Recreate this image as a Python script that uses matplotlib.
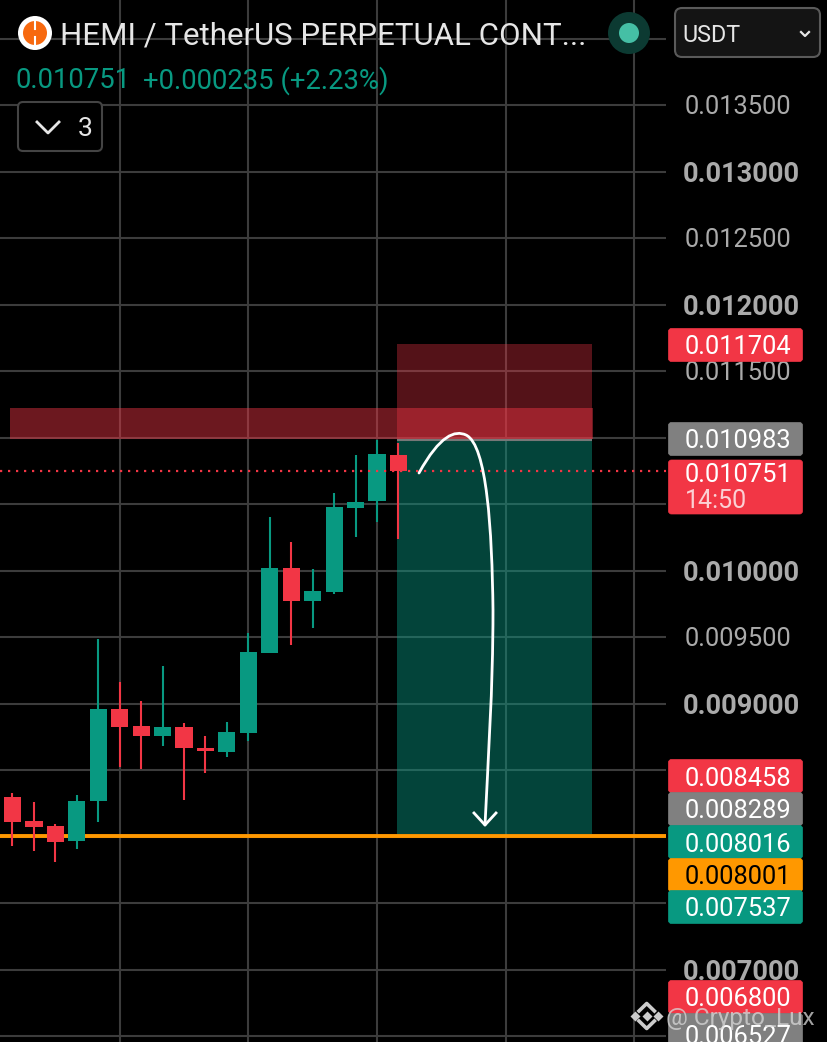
import matplotlib
matplotlib.use('Agg')
import matplotlib.pyplot as plt
from matplotlib.patches import Circle, FancyBboxPatch, PathPatch, Rectangle
from matplotlib.path import Path

plt.rcParams['font.family'] = ['Roboto', 'DejaVu Sans']

# candles
opens = [0.008295, 0.008117, 0.008077, 0.007964, 0.008267, 0.008956, 0.008831, 0.008758, 0.008821, 0.008665,
         0.008638, 0.008778, 0.009382, 0.010021, 0.009771, 0.009841, 0.010472, 0.010523, 0.010871]
highs = [0.008329, 0.008257, 0.008094, 0.008312, 0.009485, 0.009159, 0.009019, 0.009282, 0.008851, 0.008756,
         0.008859, 0.009528, 0.010400, 0.010212, 0.010011, 0.010583, 0.010868, 0.010981, 0.010961]
lows = [0.007929, 0.007891, 0.007808, 0.007908, 0.008111, 0.008525, 0.008508, 0.008680, 0.008272, 0.008475,
        0.008598, 0.008720, 0.009382, 0.009440, 0.009570, 0.009821, 0.010252, 0.010362, 0.010237]
closes = [0.008111, 0.008071, 0.007961, 0.008265, 0.008956, 0.008826, 0.008756, 0.008821, 0.008665, 0.008643,
          0.008786, 0.009385, 0.010021, 0.009771, 0.009844, 0.010475, 0.010515, 0.010876, 0.010751]

# price axis
tick_prices = [0.0135, 0.013, 0.0125, 0.012, 0.0115, 0.0100, 0.0095, 0.009, 0.007]
tick_labels = ['0.013500', '0.013000', '0.012500', '0.012000', '0.011500',
               '0.010000', '0.009500', '0.009000', '0.007000']
bold_ticks = ['0.013000', '0.012000', '0.010000', '0.009000', '0.007000']
grid_prices = [0.014, 0.0135, 0.013, 0.0125, 0.012, 0.0115, 0.011, 0.0105, 0.010,
               0.0095, 0.009, 0.0085, 0.008, 0.0075, 0.007, 0.0065]
grid_candles = [5, 11, 17, 23, 29]

# trade levels
last_price = 0.010751
stop_price = 0.011704
entry_price = 0.010983
target_price = 0.008016
orange_price = 0.008001
zone_top = 0.011222
zone_bottom = 0.010989

# price badges
badge_text = ['0.011704', '0.010983', '0.008458', '0.008289', '0.008016', '0.008001', '0.007537', '0.006800', '0.006527']
badge_color = ['#f23645', '#808080', '#f23645', '#808080', '#089981', '#ff9800', '#089981', '#f23645', '#808080']
badge_ypos = [345, 439, 776, 809, 842, 875, 907, 997, 1030]

UP = '#089981'
DOWN = '#f23645'
GRID = '#3c3c3c'
LABEL = 18.4
W, H = 828, 1042
CHART_W = 666


# pixel calibration of the screenshot
def py(p):
    return 105 + (0.0135 - p) * 133000


def cx(px):
    return (px - 12.5) / 21.44


fig = plt.figure(figsize=(W / 100, H / 100), dpi=100, facecolor='black')
ax = fig.add_axes([0, 0, CHART_W / W, 1])
ax.set_facecolor('black')
ax.set_xlim(cx(0), cx(CHART_W))
ax.set_ylim(0.0135 - (H - 105) / 133000, 0.0135 + 105 / 133000)
ax.axis('off')

ax.hlines(grid_prices, cx(0), cx(CHART_W), color=GRID, lw=1.5, zorder=1)
ax.vlines(grid_candles, *ax.get_ylim(), color=GRID, lw=1.5, zorder=1)

# position boxes and zone
box_l, box_r = cx(397.5), cx(592)
ax.add_patch(Rectangle((box_l, target_price), box_r - box_l, entry_price - target_price,
                       color=UP, alpha=0.45, lw=0, zorder=2))
ax.add_patch(Rectangle((box_l, entry_price), box_r - box_l, stop_price - entry_price,
                       color=DOWN, alpha=0.35, lw=0, zorder=2))
ax.add_patch(Rectangle((cx(10), zone_bottom), cx(593) - cx(10), zone_top - zone_bottom,
                       color=DOWN, alpha=0.45, lw=0, zorder=2))
ax.hlines(entry_price, box_l, box_r, color='#777777', lw=1.5, zorder=3)
ax.hlines(orange_price, cx(0), cx(CHART_W), color='#ff9800', lw=2.8, zorder=3)

# candles
for i in range(len(opens)):
    c = UP if closes[i] >= opens[i] else DOWN
    ax.vlines(i, lows[i], highs[i], color=c, lw=1.5, zorder=4)
    ax.bar(i, abs(closes[i] - opens[i]), bottom=min(opens[i], closes[i]), width=0.8, color=c, zorder=5)

ax.hlines(last_price, cx(0), cx(CHART_W), color=DOWN, lw=1.6, linestyles=(0, (1, 2.6)), zorder=6)

# overlay in screenshot pixels for the app furniture
ui = fig.add_axes([0, 0, 1, 1], facecolor='none')
ui.set_xlim(0, W)
ui.set_ylim(H, 0)
ui.axis('off')

# hand drawn arrow
curve = Path([(419, 473), (440, 435), (455, 430), (466, 435), (487, 445), (492, 530), (493, 610),
              (493, 690), (488, 760), (485, 825)],
             [Path.MOVETO] + [Path.CURVE4] * 9)
ui.add_patch(PathPatch(curve, fc='none', ec='white', lw=2, capstyle='round', zorder=7))
ui.plot([474, 485, 496], [813, 825, 813], color='white', lw=2, zorder=7)

# tick labels
for p, t in zip(tick_prices, tick_labels):
    bold = t in bold_ticks
    ui.text(741 if bold else 738, py(p), t, color='#aaaaaa', fontsize=19.6 if bold else LABEL,
            ha='center', va='center_baseline', fontweight='bold' if bold else 'normal')


def badge(y0, y1, color):
    ui.add_patch(FancyBboxPatch((668.5, y0), 134, y1 - y0, boxstyle='round,pad=0,rounding_size=3',
                                fc=color, ec=color, lw=0.5, zorder=8))


for t, c, y in zip(badge_text, badge_color, badge_ypos):
    badge(y - 16.5, y + 16.5, c)
    ui.text(738, y + (4 if t == '0.006527' else 0), t, color='black' if c == '#ff9800' else 'white',
            fontsize=LABEL, ha='center', va='center_baseline', zorder=9)

# last price badge with countdown
badge(460, 514, DOWN)
ui.text(738, 472, '0.010751', color='white', fontsize=LABEL, ha='center', va='center_baseline', zorder=9)
ui.text(685, 498, '14:50', color='#fbd0d4', fontsize=18, ha='left', va='center_baseline', zorder=9)

# header
ui.add_patch(Circle((35, 33), 17, fc='white', ec='none', zorder=9))
ui.add_patch(Circle((35, 33), 12, fc='#f7690f', ec='none', zorder=10))
ui.plot([35, 35], [20, 29], color='white', lw=1.5, zorder=11)
ui.plot([35, 35], [37, 46], color='white', lw=1.5, zorder=11)
ui.text(60, 33, 'HEMI / TetherUS PERPETUAL CONT...', color='#e6e6e6', fontsize=22.5, va='center_baseline', zorder=9)
ui.text(16, 77, '0.010751', color=UP, fontsize=19.8, va='center_baseline', zorder=9)
ui.text(143, 77, '+0.000235 (+2.23%)', color=UP, fontsize=19.8, va='center_baseline', zorder=9)

ui.add_patch(Circle((629, 33), 21, fc='#0c3a32', ec='none', zorder=9))
ui.add_patch(Circle((629, 33), 10, fc='#45bfa5', ec='none', zorder=10))

ui.add_patch(FancyBboxPatch((675, 8), 145, 49, boxstyle='round,pad=0,rounding_size=7',
                            fc='#141414', ec='#5a5a5a', lw=1.5, zorder=9))
ui.text(682, 33, 'USDT', color='#e6e6e6', fontsize=16.8, va='center_baseline', zorder=10)
ui.plot([801, 805, 809], [32, 36, 32], color='#e6e6e6', lw=1.6, zorder=10)

ui.add_patch(FancyBboxPatch((18, 102), 84, 49, boxstyle='round,pad=0,rounding_size=5',
                            fc='black', ec='#444444', lw=1.5, zorder=9))
ui.plot([37, 48, 59], [122, 133, 122], color='#e6e6e6', lw=2, zorder=10)
ui.text(78, 127, '3', color='#e6e6e6', fontsize=19, va='center_baseline', zorder=10)

# watermark
ui.plot([635, 646.7, 658], [1016, 1016, 1016], ls='none', marker='D', ms=5, color='#cccccc', mec='none', zorder=11)
ui.plot([639, 646.7, 654.4], [1011, 1003.5, 1011], color='#cccccc', lw=2.6, zorder=11)
ui.plot([639, 646.7, 654.4], [1021, 1028.5, 1021], color='#cccccc', lw=2.6, zorder=11)
ui.text(666, 1016, '@ Crypto_Lux', color='#d8d8d8', alpha=0.75, fontsize=17.6, va='center_baseline', zorder=11)

fig.savefig('out.png', dpi=100, facecolor='black')
